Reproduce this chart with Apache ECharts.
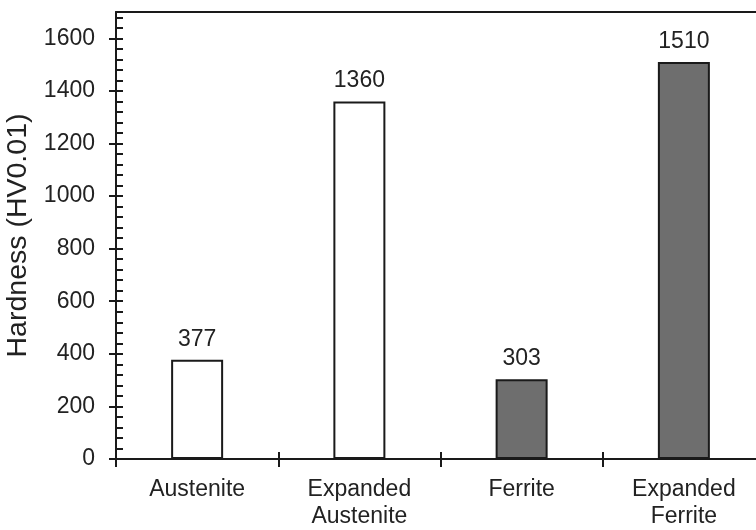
<!DOCTYPE html>
<html>
<head>
<meta charset="utf-8">
<script src="https://cdn.jsdelivr.net/npm/echarts@6/dist/echarts.min.js"></script>
<style>
  html, body { margin: 0; padding: 0; background: #fff; }
  #chart { width: 756px; height: 530px; }
</style>
</head>
<body>
<div id="chart"></div>
<script>
// Phase categories and measured microhardness
const categories = ['Austenite', 'Expanded\nAustenite', 'Ferrite', 'Expanded\nFerrite'];
const hardness = [377, 1360, 303, 1510];
const yTicks = [0, 200, 400, 600, 800, 1000, 1200, 1400, 1600];

// Bar fill per phase: austenitic phases open, ferritic phases shaded
const fills = ['#ffffff', '#ffffff', '#6e6e6e', '#6e6e6e'];

const FONT = '"Liberation Sans", Arial, sans-serif';
const INK = '#1a1a1a';

const chart = echarts.init(document.getElementById('chart'), null, { renderer: 'canvas' });

chart.setOption({
  backgroundColor: '#ffffff',
  animation: false,
  grid: { left: 116, top: 12, width: 649, height: 447, containLabel: false, outerBoundsMode: 'none' },
  xAxis: [
    {
      type: 'category', data: categories, position: 'bottom',
      axisLine: { show: true, lineStyle: { color: INK, width: 2 } },
      axisTick: { show: true, length: 8, lineStyle: { color: INK, width: 2 } },
      axisLabel: { color: '#222', fontFamily: FONT, fontSize: 23, lineHeight: 27, margin: 17, interval: 0 },
      splitLine: { show: false }
    },
    {
      type: 'category', data: categories, position: 'bottom',
      axisLine: { show: false },
      axisTick: { show: true, inside: true, length: 7, lineStyle: { color: INK, width: 2 } },
      axisLabel: { show: false },
      splitLine: { show: false }
    },
    {
      type: 'category', data: categories, position: 'top',
      axisLine: { show: true, lineStyle: { color: INK, width: 2 } },
      axisTick: { show: false },
      axisLabel: { show: false },
      splitLine: { show: false }
    }
  ],
  yAxis: [
    {
      type: 'value', min: 0, max: 1700, interval: 40, position: 'left',
      name: 'Hardness (HV0.01)', nameLocation: 'middle', nameGap: 82,
      nameTextStyle: { color: '#222', fontFamily: FONT, fontSize: 28.5 },
      axisLine: { show: true, lineStyle: { color: INK, width: 2 } },
      axisTick: { show: true, inside: true, length: 7, lineStyle: { color: INK, width: 2 } },
      axisLabel: {
        customValues: yTicks, formatter: (v) => String(v),
        color: '#222', fontFamily: FONT, fontSize: 23, margin: 21
      },
      splitLine: { show: false }
    },
    {
      type: 'value', min: 0, max: 1700, position: 'left',
      axisLine: { show: false },
      axisTick: { show: true, customValues: yTicks, length: 7, lineStyle: { color: INK, width: 2 } },
      axisLabel: { show: false },
      splitLine: { show: false }
    }
  ],
  series: [
    {
      type: 'bar',
      xAxisIndex: 0,
      yAxisIndex: 0,
      barWidth: 52,
      data: hardness,
      itemStyle: {
        color: (p) => fills[p.dataIndex],
        borderColor: INK,
        borderWidth: 2
      },
      label: {
        show: true, position: 'top', distance: 9,
        color: '#222', fontFamily: FONT, fontSize: 23
      }
    }
  ]
});
</script>
</body>
</html>
